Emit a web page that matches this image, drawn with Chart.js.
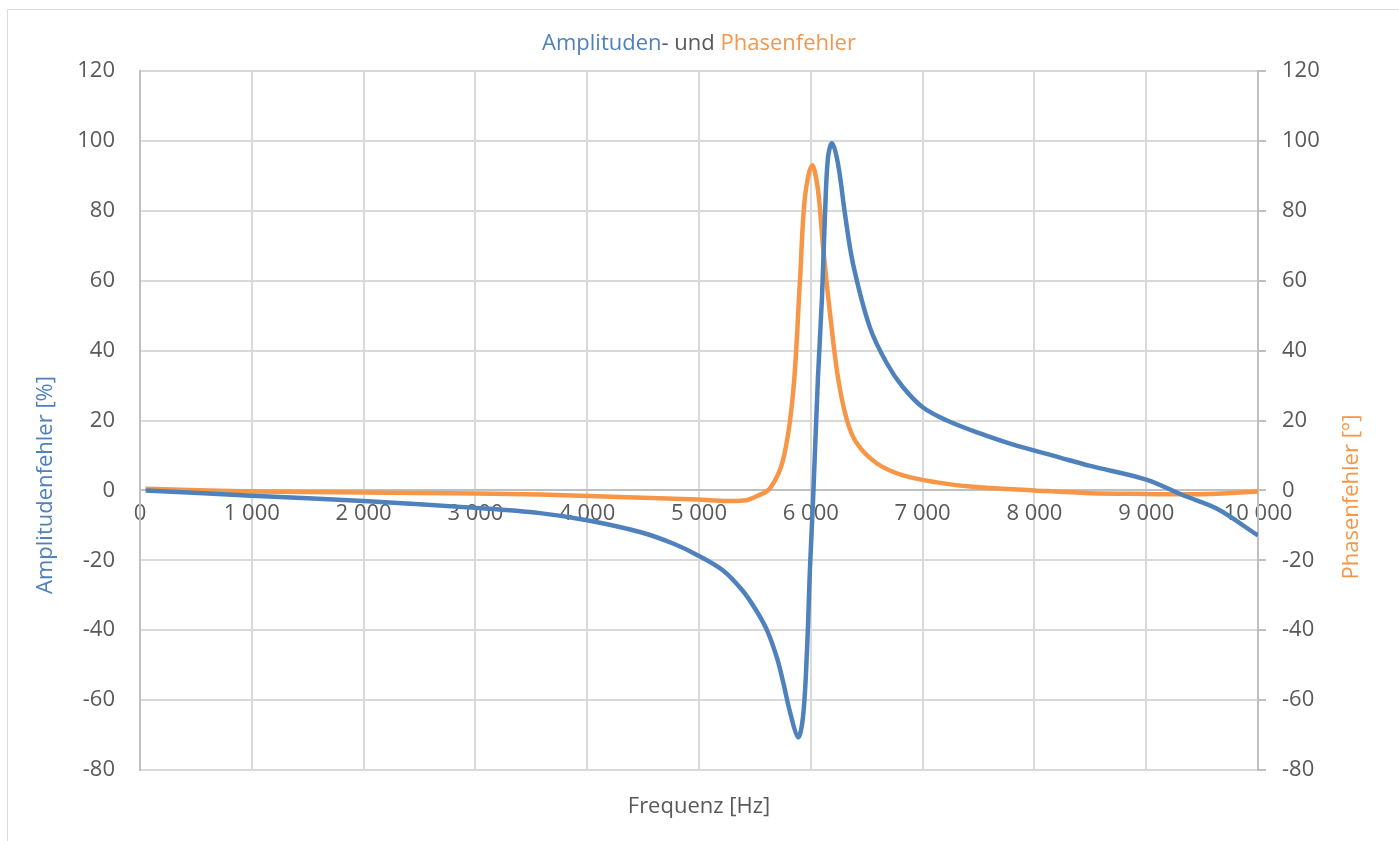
<!DOCTYPE html>
<html>
<head>
<meta charset="utf-8">
<script src="https://cdn.jsdelivr.net/npm/chart.js@4.4.1/dist/chart.umd.min.js"></script>
<style>
    body { margin: 0; background: #fff; overflow: hidden; }
    #wrap { position: relative; width: 1399px; height: 841px; }
</style>
</head>
<body>
<div id="wrap"><canvas id="chart" width="1399" height="841"></canvas></div>
<script>
// Amplitudenfehler (blue)
const freqAmp = [50, 1000, 2000, 3000, 3578, 4010, 4472, 4768, 4991, 5215, 5380, 5501, 5608, 5698, 5751, 5814, 5886, 5930, 5966, 5993, 6020, 6064, 6100, 6127, 6154, 6190, 6243, 6306, 6378, 6530, 6681, 6825, 7004, 7218, 7513, 7782, 8229, 8500, 9000, 9330, 9630, 10000];
const ampValues = [0, -1.5, -3, -5, -6.5, -8.6, -11.9, -15.2, -18.6, -22.9, -28.3, -33.8, -40, -48, -54.6, -63.4, -70.6, -64.9, -45.8, -22, -2.9, 32.3, 55.2, 79, 95.3, 99.3, 93.5, 79, 64.8, 46.5, 36.3, 29.5, 23.7, 20, 16.3, 13.4, 9.4, 7.0, 3.1, -1.4, -5.2, -12.9];

// Phasenfehler (orange)
const freqPhase = [50, 1000, 2000, 3000, 3578, 4010, 4991, 5250, 5420, 5519, 5635, 5751, 5841, 5903, 5948, 6011, 6064, 6110, 6172, 6243, 6324, 6413, 6592, 6825, 7129, 7424, 8000, 8500, 9000, 9500, 10000];
const phaseValues = [0.5, -0.3, -0.6, -0.9, -1.2, -1.6, -2.6, -3.0, -2.8, -1.6, 0.6, 8.6, 27.7, 60, 84, 93, 86, 69.5, 50.6, 32.3, 20, 13.4, 7.7, 4.3, 2.3, 1.1, 0, -0.8, -1.0, -1.1, -0.3];

const yTicks = [-80, -60, -40, -20, 0, 20, 40, 60, 80, 100, 120];

const BLUE = '#4f81bd';
const ORANGE = '#f79646';
const GRAY = '#595959';
const FONT = "'Open Sans', 'Noto Sans', sans-serif";

function toPoints(xs, ys) {
    return xs.map((x, i) => ({ x: x, y: ys[i] }));
}

function fmtThousands(v) {
    return String(v).replace(/\B(?=(\d{3})+(?!\d))/g, ' ');
}

// title, axis titles and the outer frame
const decor = {
    id: 'decor',
    afterDraw(chart) {
        const ctx = chart.ctx;
        const area = chart.chartArea;
        ctx.save();
        // frame (only left and top edges visible)
        ctx.strokeStyle = '#d9d9d9';
        ctx.lineWidth = 1;
        ctx.beginPath();
        ctx.moveTo(7.5, 841);
        ctx.lineTo(7.5, 9.5);
        ctx.lineTo(1399, 9.5);
        ctx.stroke();

        // title in three colours
        ctx.font = '22px ' + FONT;
        ctx.textBaseline = 'middle';
        const parts = [['Amplituden', BLUE], ['- und ', GRAY], ['Phasenfehler', ORANGE]];
        const total = parts.reduce((s, p) => s + ctx.measureText(p[0]).width, 0);
        let x = (area.left + area.right) / 2 - total / 2;
        parts.forEach(p => {
            ctx.fillStyle = p[1];
            ctx.textAlign = 'left';
            ctx.fillText(p[0], x, 44);
            x += ctx.measureText(p[0]).width;
        });

        // x axis title
        ctx.fillStyle = GRAY;
        ctx.textAlign = 'center';
        ctx.fillText('Frequenz [Hz]', (area.left + area.right) / 2, 807);

        // left axis title
        ctx.save();
        ctx.translate(46, 485);
        ctx.rotate(-Math.PI / 2);
        ctx.fillStyle = BLUE;
        ctx.fillText('Amplitudenfehler [%]', 0, 0);
        ctx.restore();

        // right axis title
        ctx.save();
        ctx.translate(1352, 497);
        ctx.rotate(-Math.PI / 2);
        ctx.fillStyle = ORANGE;
        ctx.fillText('Phasenfehler [°]', 0, 0);
        ctx.restore();
        ctx.restore();
    }
};

const ctx = document.getElementById('chart').getContext('2d');

new Chart(ctx, {
    type: 'scatter',
    data: {
        datasets: [{
            label: 'Amplitudenfehler',
            data: toPoints(freqAmp, ampValues),
            showLine: true,
            borderColor: BLUE,
            borderWidth: 4.5,
            pointRadius: 0,
            tension: 0.35,
            yAxisID: 'y'
        }, {
            label: 'Phasenfehler',
            data: toPoints(freqPhase, phaseValues),
            showLine: true,
            borderColor: ORANGE,
            borderWidth: 4.5,
            pointRadius: 0,
            tension: 0.35,
            yAxisID: 'y2'
        }]
    },
    options: {
        responsive: false,
        animation: false,
        devicePixelRatio: 1,
        layout: { padding: { top: 71, bottom: 71, left: 0, right: 0 } },
        plugins: {
            legend: { display: false },
            tooltip: { enabled: false }
        },
        scales: {
            x: {
                type: 'linear',
                position: { y: 0 },
                min: 0,
                max: 10000,
                ticks: {
                    stepSize: 1000,
                    color: GRAY,
                    font: { size: 22, family: FONT },
                    padding: 10,
                    maxRotation: 0,
                    callback: v => fmtThousands(v)
                },
                grid: { color: '#d9d9d9', lineWidth: 2, drawTicks: false },
                border: { color: '#bfbfbf', width: 2 }
            },
            y: {
                position: 'left',
                min: -80,
                max: 120,
                afterBuildTicks: s => { s.ticks = yTicks.map(v => ({ value: v })); },
                afterFit: s => { s.width = 140; },
                ticks: {
                    color: GRAY,
                    font: { size: 22, family: FONT },
                    padding: 25
                },
                grid: { color: '#d9d9d9', lineWidth: 2, drawTicks: false },
                border: { color: '#bfbfbf', width: 2 }
            },
            y2: {
                position: 'right',
                min: -80,
                max: 120,
                afterBuildTicks: s => { s.ticks = yTicks.map(v => ({ value: v })); },
                afterFit: s => { s.width = 141; },
                ticks: {
                    color: GRAY,
                    font: { size: 22, family: FONT },
                    padding: 16
                },
                grid: { drawOnChartArea: false, tickLength: 8, tickColor: '#bfbfbf', lineWidth: 2 },
                border: { color: '#bfbfbf', width: 2 }
            }
        }
    },
    plugins: [decor]
});
</script>
</body>
</html>
